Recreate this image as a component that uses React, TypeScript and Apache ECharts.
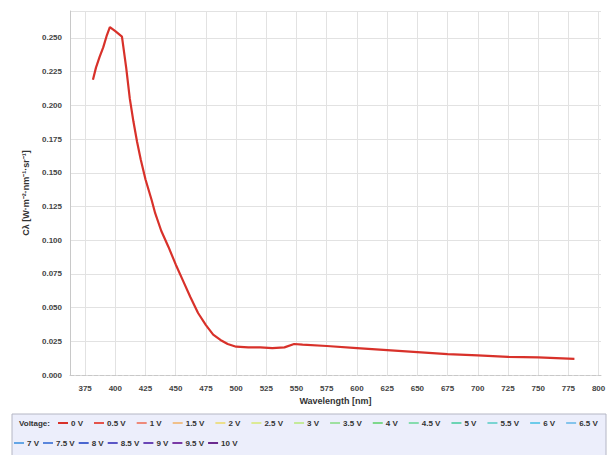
import React, { useEffect, useRef } from "react";
import * as echarts from "echarts";

const voltages = ["0 V","0.5 V","1 V","1.5 V","2 V","2.5 V","3 V","3.5 V","4 V","4.5 V","5 V","5.5 V","6 V","6.5 V","7 V","7.5 V","8 V","8.5 V","9 V","9.5 V","10 V"];
const colors = ["#d8312a","#e4534b","#ee8a7a","#f0c08a","#ecdf8c","#dcea95","#c4ea9a","#9ee0a0","#7ed88c","#86dcae","#6cd4b4","#7ad4d2","#6ccbea","#84c4ec","#64a6e6","#5a86dc","#4a66d0","#5a56c6","#6a46b6","#7a3aa6","#6a2a8e"];

const xTicks = [375,400,425,450,475,500,525,550,575,600,625,650,675,700,725,750,775,800];

const wavelengths = [381.5,384,387,390,393,395.5,400,405.5,409,412,415,418,421,425,430,433,438,444,450,456,462,468.5,475,481,487,493,500,510,520,530,540,548,555,575,600,625,650,675,700,725,750,780];
const values0V = [0.219,0.228,0.236,0.243,0.252,0.258,0.255,0.251,0.228,0.205,0.188,0.173,0.160,0.145,0.130,0.120,0.107,0.095,0.082,0.070,0.058,0.046,0.037,0.030,0.026,0.023,0.021,0.0205,0.0205,0.020,0.0205,0.023,0.0225,0.0215,0.020,0.0185,0.017,0.0155,0.0145,0.0135,0.013,0.012];

export default function App() {
  const ref = useRef<HTMLDivElement>(null);
  useEffect(() => {
    document.body.style.margin = "0";
    const chart = echarts.init(ref.current!, undefined, { renderer: "svg" });
    const series = voltages.map((v, i) => ({
      name: v,
      type: "line",
      showSymbol: false,
      symbol: "none",
      lineStyle: { width: 2.2, color: colors[i] },
      itemStyle: { color: colors[i] },
      data: i === 0 ? wavelengths.map((w, k) => [w, values0V[k]]) : [],
    }));
    const legendText = { fontSize: 8, fontWeight: "bold", color: "#333", padding: [0, 0, 0, -2], fontFamily: "Liberation Sans" };
    chart.setOption({
      animation: false,
      backgroundColor: "#ffffff",
      grid: { left: 70, right: 8, top: 11, height: 364 },
      xAxis: {
        type: "value",
        min: 362.5,
        max: 802,
        name: "Wavelength [nm]",
        nameLocation: "middle",
        nameGap: 20,
        nameTextStyle: { fontSize: 9, fontWeight: "bold", color: "#333", fontFamily: "Liberation Sans" },
        axisLine: { show: true, lineStyle: { color: "#c8c8c8", type: "dashed" } },
        axisTick: { show: false, customValues: xTicks },
        axisLabel: { fontSize: 8, fontWeight: "bold", color: "#444", margin: 9, customValues: xTicks, fontFamily: "Liberation Sans" },
        splitLine: { show: true, lineStyle: { color: "#e2e2e2" } },
      },
      yAxis: {
        type: "value",
        min: 0,
        max: 0.27,
        interval: 0.025,
        name: "Cλ [W·m⁻²·nm⁻¹·sr⁻¹]",
        nameLocation: "middle",
        nameGap: 40,
        nameTextStyle: { fontSize: 9, fontWeight: "bold", color: "#333", fontFamily: "Liberation Sans" },
        axisLine: { show: true, lineStyle: { color: "#c8c8c8" } },
        axisTick: { show: false },
        axisLabel: { fontSize: 8, fontWeight: "bold", color: "#444", margin: 8, showMaxLabel: false, formatter: (v: number) => v.toFixed(3), fontFamily: "Liberation Sans" },
        splitLine: { show: true, lineStyle: { color: "#e2e2e2" } },
      },
      legend: [
        {
          left: 58,
          top: 419,
          width: 551,
          icon: "rect",
          itemWidth: 10,
          itemHeight: 2,
          itemGap: 11,
          padding: 0,
          textStyle: legendText,
          data: voltages.slice(0, 14),
        },
        {
          left: 14,
          top: 439,
          width: 400,
          icon: "rect",
          itemWidth: 10,
          itemHeight: 2,
          itemGap: 4,
          padding: 0,
          textStyle: legendText,
          data: voltages.slice(14),
        },
      ],
      graphic: [
        {
          type: "rect",
          z: -10,
          shape: { x: 12, y: 414, width: 594, height: 44 },
          style: { fill: "#eceefb", stroke: "#b4b6c4", lineWidth: 1 },
          silent: true,
        },
        {
          type: "text",
          x: 19,
          y: 419,
          style: { text: "Voltage:", fontSize: 8, fontWeight: "bold", fill: "#333", fontFamily: "Liberation Sans" },
        },
      ],
      series,
    });
    return () => chart.dispose();
  }, []);
  return <div ref={ref} style={{ width: 609, height: 455 }} />;
}
